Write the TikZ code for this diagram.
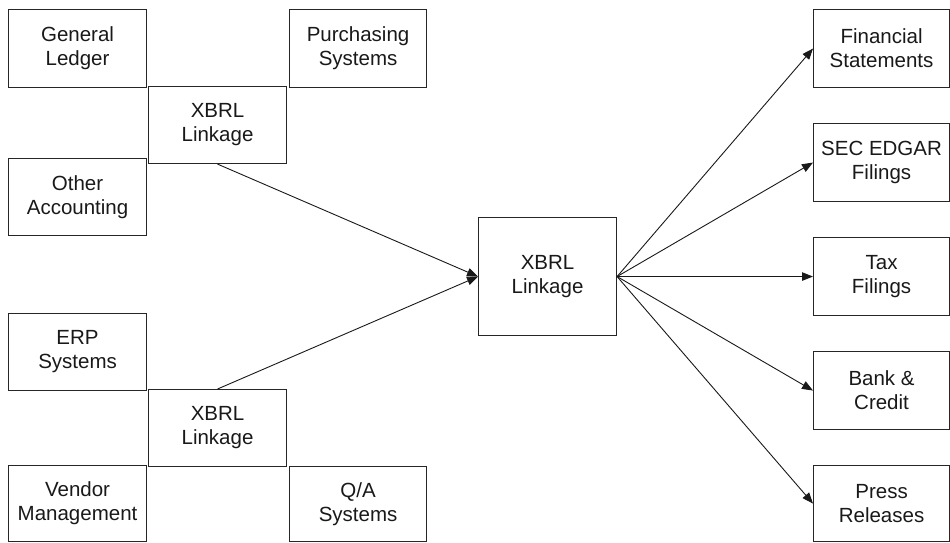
\documentclass[tikz,border=0pt]{standalone}
\usepackage{fontspec}
\setmainfont{Liberation Sans}
\usetikzlibrary{arrows.meta}
\begin{document}
\begin{tikzpicture}[x=1pt,y=-1pt,
  box/.style={draw=black!85, line width=1.1pt, rectangle, inner sep=0pt,
    anchor=north west, align=center, text=black!90,
    font=\fontsize{20.5}{24}\selectfont},
  link/.style={draw=black!90, line width=0.9pt},
  feed/.style={link, -{Triangle[length=11pt,width=8.5pt]}}]
\useasboundingbox (0,0) rectangle (950,542);

% source systems, upper group
\node[box, minimum width=138, minimum height=78] (gl)  at (8,9)   {General\\Ledger};
\node[box, minimum width=137, minimum height=78] (pur) at (289,9) {Purchasing\\Systems};
\node[box, minimum width=138, minimum height=77] (xt)  at (148,86) {XBRL\\Linkage};
\node[box, minimum width=138, minimum height=77] (oa)  at (8,158) {Other\\Accounting};

% source systems, lower group
\node[box, minimum width=138, minimum height=77] (erp) at (8,313)   {ERP\\Systems};
\node[box, minimum width=138, minimum height=77] (xb)  at (148,389) {XBRL\\Linkage};
\node[box, minimum width=138, minimum height=76] (vm)  at (8,465)   {Vendor\\Management};
\node[box, minimum width=137, minimum height=75] (qa)  at (289,466) {Q/A\\Systems};

% central hub
\node[box, minimum width=138, minimum height=118] (hub) at (478,217) {XBRL\\Linkage};

% outputs
\node[box, minimum width=136, minimum height=78] (fs)  at (813,9)   {Financial\\Statements};
\node[box, minimum width=136, minimum height=78] (sec) at (813,123) {SEC EDGAR\\Filings};
\node[box, minimum width=136, minimum height=78] (tax) at (813,237) {Tax\\Filings};
\node[box, minimum width=136, minimum height=78] (bank) at (813,351) {Bank \&\\Credit};
\node[box, minimum width=136, minimum height=76] (pr)  at (813,465) {Press\\Releases};

% connectors
\draw[feed] (xt.south) -- (hub.west);
\draw[feed] (xb.north) -- (hub.west);
\foreach \t in {fs,sec,tax,bank,pr}
  \draw[feed] (hub.east) -- (\t.west);
\end{tikzpicture}
\end{document}
